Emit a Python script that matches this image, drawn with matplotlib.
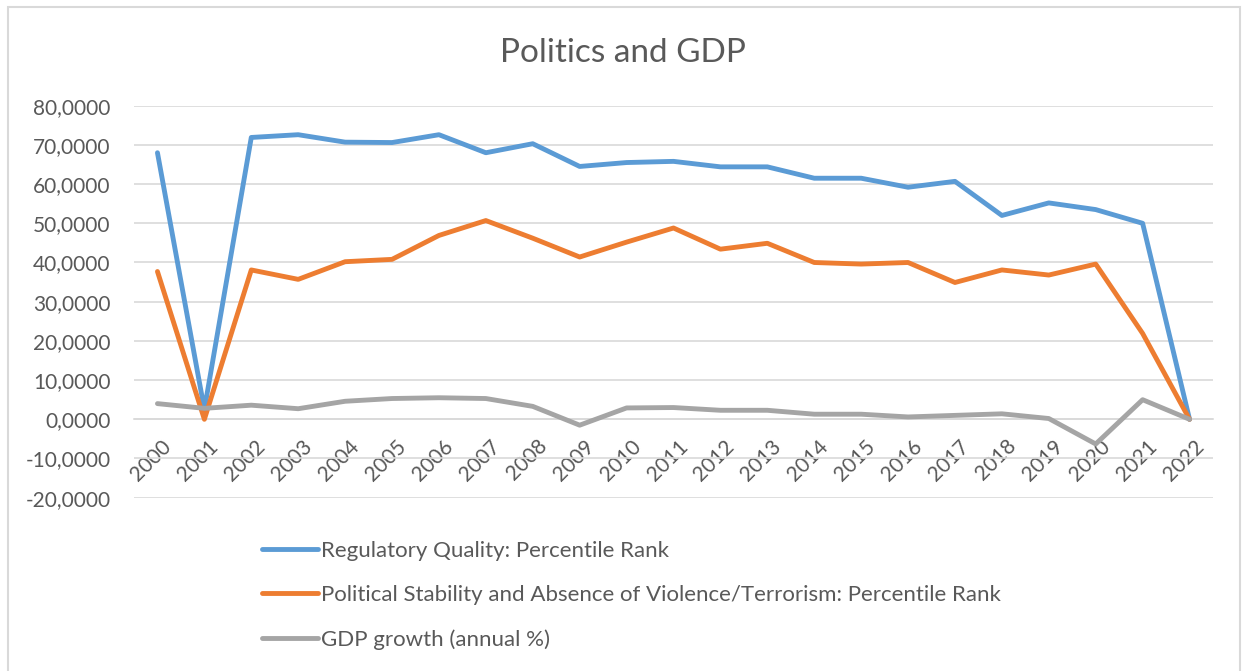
import matplotlib
matplotlib.use("Agg")
import matplotlib.pyplot as plt
from matplotlib.transforms import ScaledTranslation
from matplotlib.patches import Rectangle

plt.rcParams['font.family'] = ['Lato', 'DejaVu Sans']

years = [str(y) for y in range(2000, 2023)]
regulatory_quality = [68.0, 2.5, 71.9, 72.6, 70.7, 70.6, 72.6, 68.0, 70.3, 64.5,
                      65.5, 65.8, 64.4, 64.4, 61.5, 61.5, 59.2, 60.7, 52.0, 55.2,
                      53.5, 50.0, 0.0]
political_stability = [37.7, 0.0, 38.1, 35.7, 40.2, 40.8, 46.9, 50.7, 46.2, 41.4,
                       45.2, 48.8, 43.4, 44.9, 40.0, 39.6, 40.0, 34.9, 38.1, 36.8,
                       39.6, 21.9, 0.0]
gdp_growth = [4.0, 2.8, 3.6, 2.7, 4.6, 5.3, 5.5, 5.3, 3.3, -1.5,
              2.9, 3.0, 2.3, 2.3, 1.3, 1.3, 0.6, 1.0, 1.4, 0.2,
              -6.3, 5.0, 0.0]
series_labels = ["Regulatory Quality: Percentile Rank",
                 "Political Stability and Absence of Violence/Terrorism: Percentile Rank",
                 "GDP growth (annual %)"]
y_ticks = [-20, -10, 0, 10, 20, 30, 40, 50, 60, 70, 80]
y_tick_labels = ["-20,0000", "-10,0000", "0,0000", "10,0000", "20,0000", "30,0000",
                 "40,0000", "50,0000", "60,0000", "70,0000", "80,0000"]
title = "Politics and GDP"

colors = ["#5B9BD5", "#ED7D31", "#A5A5A5"]
text_color = "#595959"
grid_color = "#D9D9D9"

W, H = 1245, 671
fig = plt.figure(figsize=(W / 100, H / 100), dpi=100)
ax = fig.add_axes([134 / W, 1 - 497.7 / H, (1213 - 134) / W, (497.7 - 105.7) / H])

x = list(range(len(years)))
handles = []
for vals, c, lab in zip([regulatory_quality, political_stability, gdp_growth], colors, series_labels):
    ln, = ax.plot(x, vals, color=c, lw=3.5, solid_capstyle='round',
                  solid_joinstyle='round', label=lab, zorder=3)
    handles.append(ln)

ax.set_xlim(-0.5, len(years) - 0.5)
ax.set_ylim(-20, 80)
ax.set_yticks(y_ticks, y_tick_labels)
ax.set_xticks(x, years)
ax.yaxis.grid(True, color=grid_color, lw=1.2, zorder=0)
ax.set_axisbelow(True)
for s in ['top', 'right', 'left']:
    ax.spines[s].set_visible(False)
ax.spines['bottom'].set_position(('data', 0))
ax.spines['bottom'].set_color(grid_color)
ax.spines['bottom'].set_linewidth(1.2)
ax.tick_params(axis='y', length=0, pad=17, labelsize=15, labelcolor=text_color)
ax.tick_params(axis='x', length=0, pad=12, labelsize=15, labelcolor=text_color)
off = ScaledTranslation(4 / 100, 0, fig.dpi_scale_trans)
for lab in ax.get_xticklabels():
    lab.set_rotation(45)
    lab.set_ha('right')
    lab.set_va('top')
    lab.set_rotation_mode('anchor')
    lab.set_transform(lab.get_transform() + off)

fig.text(0.5, 1 - 53 / H, title, ha='center', va='center', fontsize=24, color=text_color)

leg = fig.legend(handles=handles, labels=series_labels, loc='upper left',
                 bbox_to_anchor=(262 / W, 1 - 541 / H), frameon=False, fontsize=16,
                 handlelength=2.5, handletextpad=0.15, labelspacing=1.08, borderpad=0,
                 borderaxespad=0)
for t in leg.get_texts():
    t.set_color(text_color)

fig.patches.append(Rectangle((8 / W, -0.01), (1240 - 8) / W, 1 - 7 / H + 0.01,
                             transform=fig.transFigure, fill=False,
                             edgecolor=grid_color, lw=1.5))

fig.savefig("out.png", dpi=100)
